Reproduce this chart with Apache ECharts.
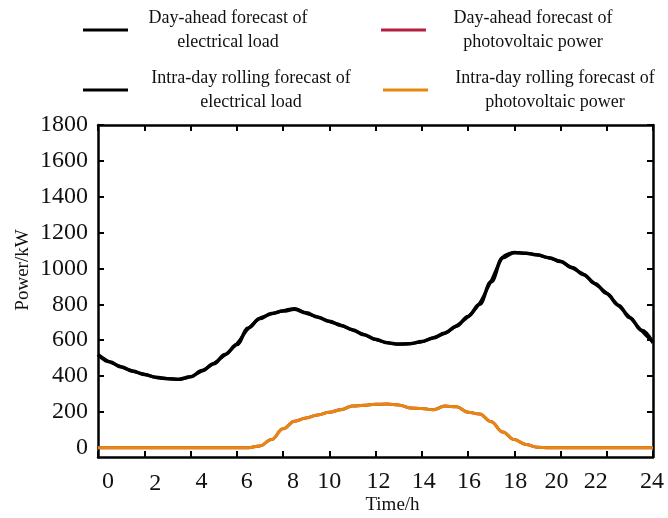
<!DOCTYPE html>
<html>
<head>
<meta charset="utf-8">
<script src="https://cdn.jsdelivr.net/npm/echarts@6/dist/echarts.min.js"></script>
<style>
  html, body { margin: 0; padding: 0; background: #fff; }
  #chart { width: 668px; height: 518px; }
</style>
</head>
<body>
<div id="chart"></div>
<script>
// Time of day (h), half-hour resolution
const hours = [
  0, 0.5, 1, 1.5, 2, 2.5, 3, 3.5, 4, 4.5, 5, 5.5, 6, 6.5, 7, 7.5, 8, 8.5, 9, 9.5,
  10, 10.5, 11, 11.5, 12, 12.5, 13, 13.5, 14, 14.5, 15, 15.5, 16, 16.5, 17, 17.5,
  18, 18.5, 19, 19.5, 20, 20.5, 21, 21.5, 22, 22.5, 23, 23.5, 24
];

// Electrical load forecasts (kW)
const loadDayAhead = [
  520, 480, 450, 428, 408, 393, 385, 382, 395, 430, 468, 520, 575, 668, 720, 748, 762, 772, 752, 728,
  705, 682, 658, 630, 605, 585, 578, 580, 592, 612, 640, 678, 732, 800, 925, 1060,
  1088, 1085, 1075, 1060, 1038, 1005, 965, 915, 860, 795, 725, 655, 585
];
const loadIntraDay = [
  520, 478, 452, 426, 410, 392, 386, 381, 396, 428, 470, 518, 578, 665, 722, 746, 764, 776, 750, 730,
  703, 684, 656, 632, 603, 586, 577, 581, 590, 614, 638, 680, 730, 805, 930, 1062,
  1090, 1084, 1076, 1058, 1040, 1003, 967, 913, 862, 793, 727, 653, 588
];

// Photovoltaic power forecasts (kW)
const pvDayAhead = [
  0, 0, 0, 0, 0, 0, 0, 0, 0, 0, 0, 0, 0, 0, 10, 45, 105, 148, 166, 182,
  197, 212, 232, 236, 242, 243, 238, 222, 218, 212, 232, 228, 198, 188, 145, 88,
  45, 18, 3, 0, 0, 0, 0, 0, 0, 0, 0, 0, 0
];
const pvIntraDay = [
  0, 0, 0, 0, 0, 0, 0, 0, 0, 0, 0, 0, 0, 0, 10, 45, 105, 148, 166, 182,
  197, 212, 232, 236, 242, 243, 238, 222, 218, 212, 232, 228, 198, 188, 145, 88,
  45, 18, 3, 0, 0, 0, 0, 0, 0, 0, 0, 0, 0
];

// Axis tick values
const timeTicks = [0, 2, 4, 6, 8, 10, 12, 14, 16, 18, 20, 22, 24];
const powerTicks = [0, 200, 400, 600, 800, 1000, 1200, 1400, 1600, 1800];

const seriesNames = [
  'Day-ahead forecast of\nelectrical load',
  'Day-ahead forecast of\nphotovoltaic power',
  'Intra-day rolling forecast of\nelectrical load',
  'Intra-day rolling forecast of\nphotovoltaic power'
];

const FONT = "'Liberation Serif', 'Times New Roman', serif";

// Small nudges of individual time labels (px): [horizontal, vertical]
const labelNudge = {
  0: [10, 0], 2: [11, 2], 4: [11, 0], 6: [10, 0], 8: [10, 0], 10: [0, 0], 12: [3, 0],
  14: [2, 0], 16: [1, 0], 18: [1, 0], 20: [-4, 0], 22: [-11, 0], 24: [-1, 0]
};

const pair = (xs, ys) => xs.map((x, i) => [x, ys[i]]);

function legendBlock(name, left, top, textWidth) {
  return {
    data: [name],
    left: left,
    top: top,
    icon: 'rect',
    itemWidth: 45,
    itemHeight: 3,
    itemGap: 0,
    selectedMode: false,
    textStyle: {
      fontFamily: FONT,
      fontSize: 18,
      color: '#111',
      lineHeight: 24,
      rich: { c: { fontFamily: FONT, fontSize: 18, color: '#111', width: textWidth, align: 'center', lineHeight: 24 } }
    },
    formatter: n => n.split('\n').map(s => '{c|' + s + '}').join('\n')
  };
}

// Rich styles for the time labels, one per nudge
const timeLabelRich = {};
timeTicks.forEach(t => {
  const [dx, dy] = labelNudge[t] || [0, 0];
  timeLabelRich['t' + t] = {
    fontFamily: FONT, fontSize: 24, color: '#111',
    padding: [dy, Math.max(0, -2 * dx), 0, Math.max(0, 2 * dx)]
  };
});

const chart = echarts.init(document.getElementById('chart'), null, { renderer: 'canvas' });

const axisLineStyle = { color: '#000', width: 2.5 };
const tickStyle = { color: '#000', width: 2 };

chart.setOption({
  animation: false,
  backgroundColor: '#fff',
  legend: [
    legendBlock(seriesNames[0], 78, 1, 190),
    legendBlock(seriesNames[1], 376, 1, 204),
    legendBlock(seriesNames[2], 78, 61, 236),
    legendBlock(seriesNames[3], 378, 61, 244)
  ],
  grid: { left: 98, right: 15, top: 125, bottom: 61, containLabel: false, outerBoundsMode: 'none' },
  xAxis: [
    {
      type: 'value', min: 0, max: 24, interval: 2,
      name: 'Time/h', nameLocation: 'middle', nameGap: 39, nameMoveOverlap: false,
      nameTextStyle: { fontFamily: FONT, fontSize: 19, color: '#111', padding: [0, 0, 0, 34] },
      axisLine: { show: true, onZero: false, lineStyle: axisLineStyle },
      axisTick: { show: true, inside: true, length: 6, lineStyle: tickStyle },
      axisLabel: {
        margin: 13,
        fontFamily: FONT, fontSize: 24, color: '#111',
        formatter: v => '{t' + v + '|' + v + '}',
        rich: timeLabelRich
      },
      splitLine: { show: false }
    },
    {
      type: 'value', position: 'top', min: 0, max: 24, interval: 2,
      axisLine: { show: true, onZero: false, lineStyle: axisLineStyle },
      axisTick: { show: true, inside: true, length: 6, lineStyle: tickStyle },
      axisLabel: { show: false },
      splitLine: { show: false }
    }
  ],
  yAxis: [
    {
      type: 'value', min: -52, max: 1800,
      name: 'Power/kW', nameLocation: 'middle', nameGap: 65, nameRotate: 90, nameMoveOverlap: false,
      nameTextStyle: { fontFamily: FONT, fontSize: 19, color: '#111', padding: [0, 0, 0, 42] },
      axisLine: { show: true, onZero: false, lineStyle: axisLineStyle },
      axisTick: { show: true, inside: true, length: 6, customValues: powerTicks, lineStyle: tickStyle },
      axisLabel: {
        margin: 10, fontFamily: FONT, fontSize: 24, color: '#111',
        customValues: powerTicks, formatter: v => String(v)
      },
      splitLine: { show: false }
    },
    {
      type: 'value', position: 'right', min: -52, max: 1800,
      axisLine: { show: true, onZero: false, lineStyle: axisLineStyle },
      axisTick: { show: true, inside: true, length: 6, customValues: powerTicks, lineStyle: tickStyle },
      axisLabel: { show: false },
      splitLine: { show: false }
    }
  ],
  series: [
    {
      name: seriesNames[0], type: 'line', data: pair(hours, loadDayAhead),
      smooth: 0.4, smoothMonotone: 'x', symbol: 'none',
      lineStyle: { color: '#000', width: 3.5 }, itemStyle: { color: '#000' }, z: 3
    },
    {
      name: seriesNames[2], type: 'line', data: pair(hours, loadIntraDay),
      smooth: 0.25, symbol: 'none',
      lineStyle: { color: '#000', width: 3 }, itemStyle: { color: '#000' }, z: 4
    },
    {
      name: seriesNames[1], type: 'line', data: pair(hours, pvDayAhead),
      smooth: 0.4, smoothMonotone: 'x', symbol: 'none',
      lineStyle: { color: '#B5203F', width: 3 }, itemStyle: { color: '#B5203F' }, z: 3
    },
    {
      name: seriesNames[3], type: 'line', data: pair(hours, pvIntraDay),
      smooth: 0.4, smoothMonotone: 'x', symbol: 'none',
      lineStyle: { color: '#E8870E', width: 3 }, itemStyle: { color: '#E8870E' }, z: 4
    }
  ]
});
</script>
</body>
</html>
